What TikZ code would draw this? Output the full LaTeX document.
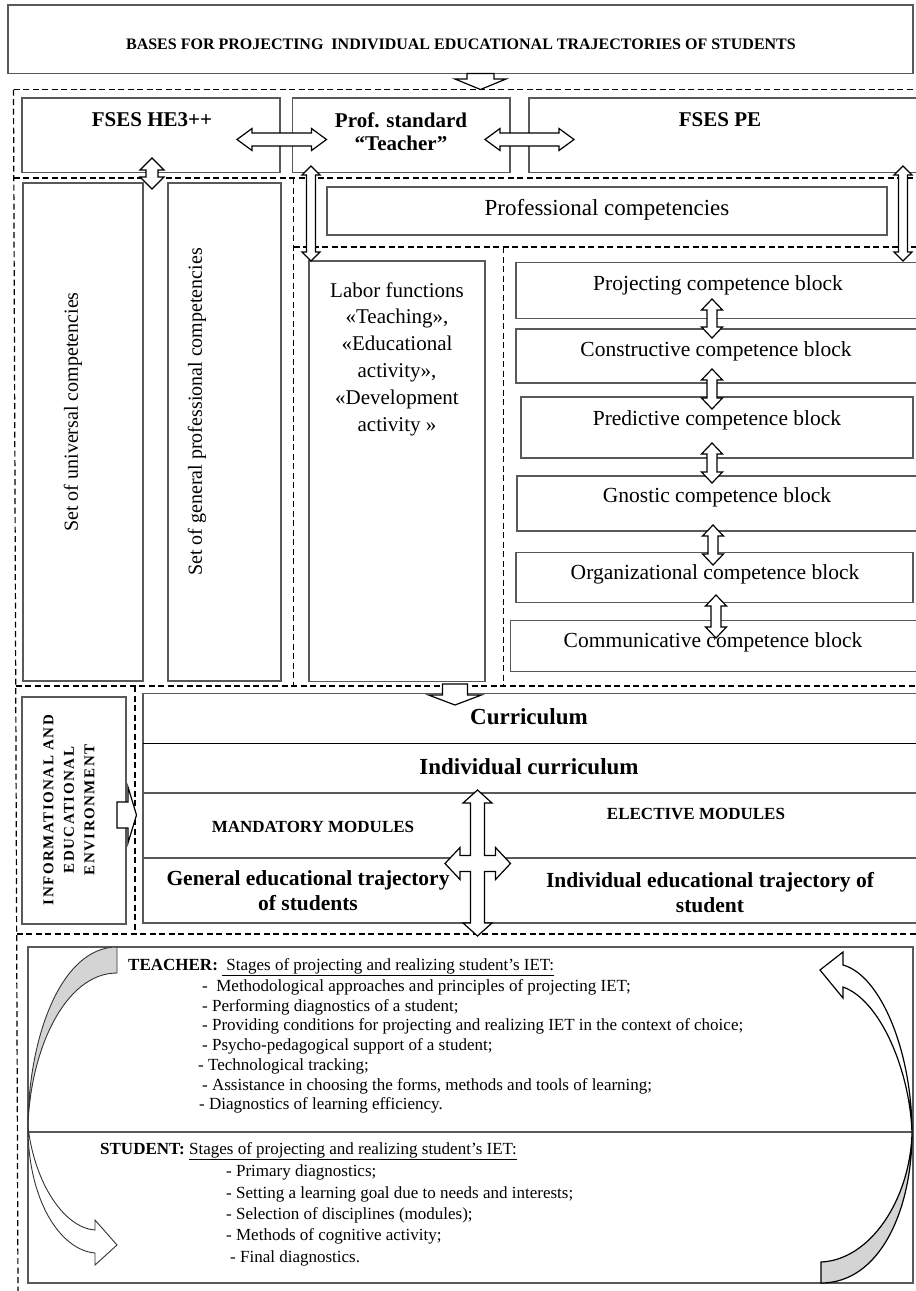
\documentclass[tikz,border=0pt]{standalone}
\usepackage{fontspec}
\setmainfont{Liberation Serif}
\newfontfamily\spacedbf[LetterSpace=10]{Liberation Serif}
\usetikzlibrary{fit}
\tikzset{
  boxst/.style={draw=black!65, line width=1.2pt, inner sep=0pt, outer sep=0pt},
  dline/.style={draw=black, line width=1.2pt, dash pattern=on 6pt off 3.5pt},
  barrow/.style={draw=black, fill=white, line width=1.2pt, line join=miter},
  txt/.style={inner sep=0pt, align=center},
  ltxt/.style={inner sep=0pt, anchor=west},
}
\newcommand{\fs}[2]{\fontsize{#1}{#2}\selectfont}
% vertical double block arrow: x, ytop, ybot, shaft half, head half, head length
\newcommand{\vdarrow}[6]{%
  \draw[barrow] (#1,#2) -- ({#1+#5},{#2+#6}) -- ({#1+#4},{#2+#6}) -- ({#1+#4},{#3-#6}) -- ({#1+#5},{#3-#6}) -- (#1,#3) -- ({#1-#5},{#3-#6}) -- ({#1-#4},{#3-#6}) -- ({#1-#4},{#2+#6}) -- ({#1-#5},{#2+#6}) -- cycle;}
% horizontal double block arrow: y, xleft, xright, shaft half, head half, head length
\newcommand{\hdarrow}[6]{%
  \draw[barrow] (#2,#1) -- ({#2+#6},{#1-#5}) -- ({#2+#6},{#1-#4}) -- ({#3-#6},{#1-#4}) -- ({#3-#6},{#1-#5}) -- (#3,#1) -- ({#3-#6},{#1+#5}) -- ({#3-#6},{#1+#4}) -- ({#2+#6},{#1+#4}) -- ({#2+#6},{#1+#5}) -- cycle;}
\begin{document}
\begin{tikzpicture}[x=1pt,y=-1pt]
\useasboundingbox (0,0) rectangle (916,1291);
\fill[white] (0,0) rectangle (916,1291);

% ---------- dashed frames ----------
\draw[dline] (13.5,89.5) -- (18,1291);
\draw[dline] (13.5,89.5) -- (920,89.5);
\draw[dline] (13.5,178) -- (920,178);
\draw[dline] (293.5,178) -- (293.5,686);
\draw[dline] (293.5,247) -- (920,247);
\draw[dline] (503.5,247) -- (503.5,686);
\draw[dline] (15.5,686) -- (920,686);
\draw[dline] (135,686) -- (135,934);
\draw[dline] (16.5,934) -- (920,934);

% ---------- boxes ----------
\node[boxst, fit={(8,5) (913,73.5)}] (titlebox) {};
\node[boxst, fit={(22,98) (280,172.5)}] (he3) {};
\node[boxst, fit={(292.5,98) (510,172.5)}] (prof) {};
\node[boxst, fit={(529,98) (922,172.5)}] (pe) {};
\node[boxst, fit={(23,183) (143,681)}] (univ) {};
\node[boxst, fit={(168,183) (281,681)}] (genp) {};
\node[boxst, fit={(327,187) (887,235)}] (profc) {};
\node[boxst, fit={(309,261) (485,681.5)}] (labor) {};
\node[boxst, fit={(516,262.5) (922,318.5)}] (proj) {};
\node[boxst, fit={(516,329) (922,383)}] (cons) {};
\node[boxst, fit={(521,397) (913,458)}] (pred) {};
\node[boxst, fit={(517,476) (922,531)}] (gnos) {};
\node[boxst, fit={(516,552.5) (913,602.5)}] (orgn) {};
\node[boxst, fit={(510.5,620.5) (922,671.5)}] (comm) {};
\node[boxst, fit={(22,697) (126,924)}] (info) {};
\node[boxst, fit={(143,693.5) (922,923)}] (curr) {};
\draw[draw=black, line width=1.3pt] (143,743.5) -- (922,743.5);
\draw[boxst] (143,793) -- (922,793);
\draw[boxst] (143,858) -- (922,858);
\node[boxst, fit={(28,947) (913,1283)}] (stages) {};
\draw[boxst] (28,1132) -- (913,1132);

% ---------- block arrows ----------
\draw[barrow] (467,73.5) -- (494,73.5) -- (494,79) -- (506,79) -- (480.5,89.5) -- (455,79) -- (467,79) -- cycle;
\hdarrow{139.5}{237}{326.5}{6.5}{11}{15}
\hdarrow{139.5}{485}{574}{6.5}{11}{15}
\vdarrow{152}{158}{189}{6}{12}{12}
\vdarrow{311}{166}{261}{4.5}{9}{9}
\vdarrow{903}{166}{261}{4.5}{9}{9}
\vdarrow{712}{299}{338}{5}{10.5}{11}
\vdarrow{712}{369}{409}{5}{10.5}{11}
\vdarrow{712}{443}{483}{5}{10.5}{11}
\vdarrow{713}{525}{565}{5}{10.5}{11}
\vdarrow{716}{595}{638}{5}{10.5}{11}
\draw[barrow] (442.5,684) -- (467.5,684) -- (467.5,695) -- (481.5,695) -- (455,705) -- (428.5,695) -- (442.5,695) -- cycle;
\draw[barrow] (117,802) -- (128,802) -- (128,787) -- (136.5,815) -- (128,843) -- (128,828) -- (117,828) -- cycle;
\draw[barrow] (477.5,790) -- (492,803) -- (484.5,803) -- (484.5,855.5) -- (495.5,855.5) -- (495.5,847.5) -- (510.5,863.5) -- (495.5,879.5) -- (495.5,871.5) -- (484.5,871.5) -- (484.5,923) -- (492,923) -- (477.5,936) -- (463,923) -- (470.5,923) -- (470.5,871.5) -- (460,871.5) -- (460,879.5) -- (445,863.5) -- (460,847.5) -- (460,855.5) -- (470.5,855.5) -- (470.5,803) -- (463,803) -- cycle;

% ---------- curved arrows ----------
\draw[draw=black!80, line width=0.9pt, fill=black!17] (117,947) .. controls (60,947) and (28,1040) .. (28,1127) .. controls (30,1050) and (65,973) .. (117,973) -- cycle;
\draw[draw=black!80, line width=0.9pt, fill=white] (28,1127) .. controls (28,1200) and (60,1250) .. (95,1253) -- (95,1265) -- (117,1245) -- (95,1220) -- (95,1230) .. controls (65,1228) and (35,1185) .. (28,1127) -- cycle;
\draw[draw=black, line width=1.2pt, fill=black!17] (821,1262) -- (821,1283) .. controls (880,1283) and (912,1210) .. (912,1133) .. controls (910,1200) and (870,1260) .. (821,1262) -- cycle;
\draw[draw=black, line width=1.2pt, fill=white, line join=miter] (912,1133) .. controls (912,1050) and (880,975) .. (843,965) -- (843,952) -- (820,970) -- (843,998) -- (843,987) .. controls (880,1000) and (910,1070) .. (912,1133) -- cycle;

% ---------- texts ----------
\node[txt, font={\fs{16}{19}\bfseries}] (titlet) at (461,44) {BASES FOR PROJECTING\ \ INDIVIDUAL EDUCATIONAL TRAJECTORIES OF STUDENTS};
\node[txt, font={\fs{21}{23.5}\bfseries}] (he3t) at (152,120) {FSES HE3++};
\node[txt, font={\fs{21}{23.5}\bfseries}] (proft) at (401,131.5) {Prof. standard\\“Teacher”};
\node[txt, font={\fs{21}{23.5}\bfseries}] (pet) at (720,120) {FSES PE};
\node[txt, font={\fs{23}{27}}] (profct) at (607,210) {Professional competencies};
\node[txt, rotate=90, font={\fs{20}{24}}] (univt) at (73,412) {Set of universal competencies};
\node[txt, rotate=90, font={\fs{20}{24}}] (genpt) at (197,412) {Set of general professional competencies};
\node[txt, font={\fs{21}{26.8}}] (labort) at (397,359) {Labor functions\\«Teaching»,\\«Educational\\activity»,\\«Development\\activity »};
\node[txt, font={\fs{21.5}{25}}] (projt) at (718,285) {Projecting competence block};
\node[txt, font={\fs{21.5}{25}}] (const) at (716,351) {Constructive competence block};
\node[txt, font={\fs{21.5}{25}}] (predt) at (717,420) {Predictive competence block};
\node[txt, font={\fs{21.5}{25}}] (gnost) at (717,497) {Gnostic competence block};
\node[txt, font={\fs{21.5}{25}}] (orgnt) at (715,574) {Organizational competence block};
\node[txt, font={\fs{21.5}{25}}] (commt) at (713,642) {Communicative competence block};
\node[txt, rotate=90, font={\spacedbf\fs{15}{20.5}\bfseries}] (infot) at (69,810) {INFORMATIONAL AND\\EDUCATIONAL\\ENVIRONMENT};
\node[txt, font={\fs{23}{27}\bfseries}] (currt) at (529,717) {Curriculum};
\node[txt, font={\fs{23}{27}\bfseries}] (icurrt) at (529,767) {Individual curriculum};
\node[txt, font={\fs{17}{20}\bfseries}] (mandt) at (313,827) {MANDATORY MODULES};
\node[txt, font={\fs{17}{20}\bfseries}] (electt) at (696,814) {ELECTIVE MODULES};
\node[txt, font={\fs{21.5}{25}\bfseries}] (gett) at (308,891) {General educational trajectory\\of students};
\node[txt, font={\fs{21.5}{25}\bfseries}] (iett) at (710,893) {Individual educational trajectory of\\student};

\node[ltxt, font={\fs{17}{20}}] (teach) at (128,967) {\textbf{TEACHER:} \underline{\ Stages of projecting and realizing student’s IET:}};
\node[ltxt, font={\fs{17}{20}}] (t1) at (202,987) {-\ \ Methodological approaches and principles of projecting IET;};
\node[ltxt, font={\fs{17}{20}}] (t2) at (202,1007) {- Performing diagnostics of a student;};
\node[ltxt, font={\fs{17}{20}}] (t3) at (202,1026) {- Providing conditions for projecting and realizing IET in the context of choice;};
\node[ltxt, font={\fs{17}{20}}] (t4) at (202,1046) {- Psycho-pedagogical support of a student;};
\node[ltxt, font={\fs{17}{20}}] (t5) at (198,1066) {- Technological tracking;};
\node[ltxt, font={\fs{17}{20}}] (t6) at (202,1086) {- Assistance in choosing the forms, methods and tools of learning;};
\node[ltxt, font={\fs{17}{20}}] (t7) at (199,1105) {- Diagnostics of learning efficiency.};
\node[ltxt, font={\fs{17}{20}}] (stud) at (100,1151) {\textbf{STUDENT:} \underline{Stages of projecting and realizing student’s IET:}};
\node[ltxt, font={\fs{17}{20}}] (s1) at (226,1172) {- Primary diagnostics;};
\node[ltxt, font={\fs{17}{20}}] (s2) at (226,1194) {- Setting a learning goal due to needs and interests;};
\node[ltxt, font={\fs{17}{20}}] (s3) at (226,1215) {- Selection of disciplines (modules);};
\node[ltxt, font={\fs{17}{20}}] (s4) at (226,1236) {- Methods of cognitive activity;};
\node[ltxt, font={\fs{17}{20}}] (s5) at (230,1258) {- Final diagnostics.};
\end{tikzpicture}
\end{document}
